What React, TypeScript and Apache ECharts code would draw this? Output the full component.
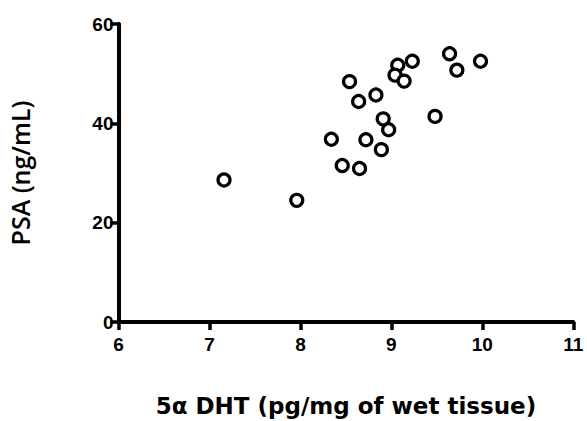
import React, { useEffect, useRef } from "react";
import * as echarts from "echarts";

const dhtValues = [7.16, 7.96, 8.34, 8.46, 8.65, 8.54, 8.64, 8.83, 8.72, 8.89, 8.91, 8.97, 9.07, 9.04, 9.14, 9.23, 9.48, 9.64, 9.72, 9.98];
const psaValues = [28.6, 24.5, 36.8, 31.5, 30.9, 48.4, 44.4, 45.7, 36.7, 34.7, 40.9, 38.7, 51.7, 49.7, 48.5, 52.5, 41.4, 54.0, 50.7, 52.5];
const xTitle = "5\u03b1 DHT (pg/mg of wet tissue)";
const yTitle = "PSA (ng/mL)";

export default function App() {
  const ref = useRef<HTMLDivElement>(null);
  useEffect(() => {
    if (!ref.current) return;
    const chart = echarts.init(ref.current, null, { renderer: "svg" });
    const data = dhtValues.map((x, i) => [x, psaValues[i]]);
    const axisCommon = {
      axisLine: { show: true, onZero: false, lineStyle: { color: "#000", width: 4 } },
      axisTick: { show: true, length: 8, lineStyle: { color: "#000", width: 3.5 } },
      splitLine: { show: false },
      nameLocation: "middle" as const,
    };
    chart.setOption({
      animation: false,
      backgroundColor: "#fff",
      grid: { left: 118.5, right: 13.7, top: 24, bottom: 99, containLabel: false, outerBoundsMode: "none" },
      xAxis: {
        ...axisCommon,
        type: "value",
        min: 6,
        max: 11,
        interval: 1,
        name: xTitle,
        nameGap: 72,
        nameTextStyle: { fontFamily: "DejaVu Sans", fontWeight: "bold", fontSize: 23, color: "#000" },
        axisLabel: { margin: 13, fontFamily: "Liberation Sans", fontWeight: "bold", fontSize: 19, color: "#000" },
      },
      yAxis: {
        ...axisCommon,
        type: "value",
        min: 0,
        max: 60,
        interval: 20,
        name: yTitle,
        nameGap: 86,
        nameTextStyle: { fontFamily: "Open Sans", fontWeight: 600, fontSize: 25, color: "#000" },
        axisLabel: { margin: 5, fontFamily: "Liberation Sans", fontWeight: "bold", fontSize: 19, color: "#000" },
      },
      series: [
        {
          type: "scatter",
          data,
          symbol: "circle",
          symbolSize: 12,
          itemStyle: { color: "#fff", borderColor: "#000", borderWidth: 3.2, opacity: 1 },
        },
      ],
    });
    return () => chart.dispose();
  }, []);
  return (
    <div
      ref={ref}
      style={{ position: "absolute", left: 0, top: 0, width: 587, height: 421 }}
    />
  );
}
